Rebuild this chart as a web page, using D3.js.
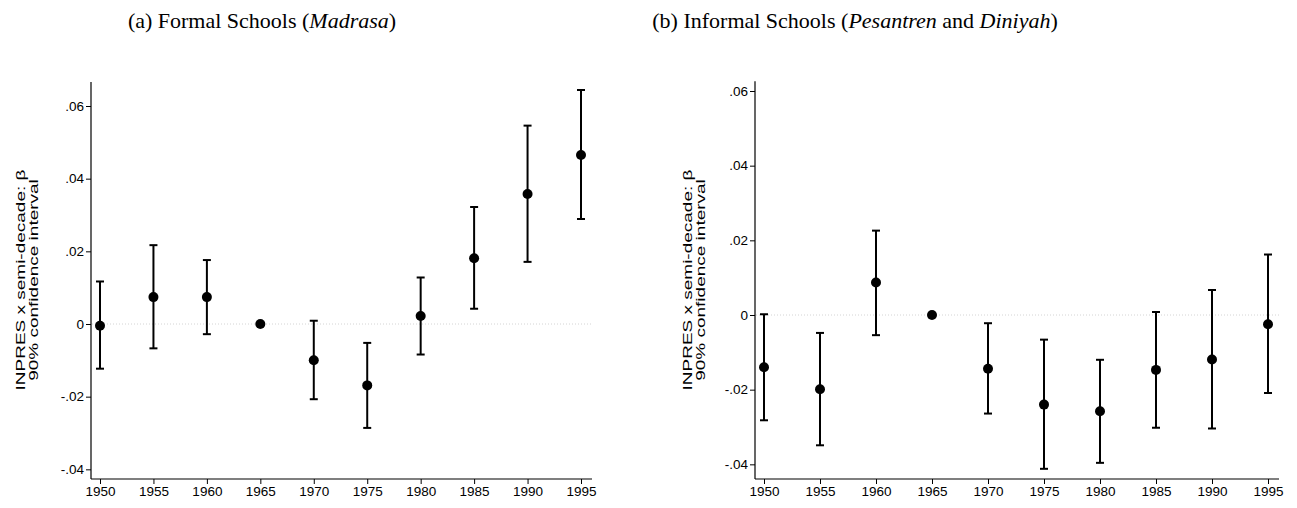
<!DOCTYPE html>
<html>
<head>
<meta charset="utf-8">
<script src="https://cdn.jsdelivr.net/npm/d3@7"></script>
<style>
  html, body { margin: 0; padding: 0; background: #fff; }
  svg { display: block; }
  .tick text { font-family: "Liberation Sans", Arial, sans-serif; font-size: 13.5px; fill: #000; }
  .title { font-family: "Liberation Serif", "Times New Roman", serif; font-size: 22px; fill: #000; }
  .ytitle { font-family: "Liberation Sans", Arial, sans-serif; font-size: 19px; fill: #000; }
</style>
</head>
<body>
<svg id="chart" width="1297" height="508"></svg>
<script>
// Birth cohorts (semi-decades)
const years = [1950, 1955, 1960, 1965, 1970, 1975, 1980, 1985, 1990, 1995];

// Panel (a): formal schools — point estimates and 90% CI bounds
const formalEst   = [-0.0005, 0.0074, 0.0074, 0, -0.0100, -0.0169, 0.0022, 0.0181, 0.0358, 0.0465];
const formalLow   = [-0.0123, -0.0067, -0.0028, null, -0.0207, -0.0286, -0.0084, 0.0042, 0.0171, 0.0289];
const formalHigh  = [0.0117, 0.0217, 0.0176, null, 0.0009, -0.0052, 0.0128, 0.0322, 0.0546, 0.0644];

// Panel (b): informal schools — point estimates and 90% CI bounds
const informalEst  = [-0.0140, -0.0199, 0.0087, 0, -0.0144, -0.0240, -0.0258, -0.0147, -0.0119, -0.0025];
const informalLow  = [-0.0282, -0.0349, -0.0054, null, -0.0264, -0.0412, -0.0396, -0.0302, -0.0304, -0.0209];
const informalHigh = [0.0002, -0.0048, 0.0226, null, -0.0022, -0.0066, -0.0120, 0.0008, 0.0067, 0.0162];

const yTicks = [-0.04, -0.02, 0, 0.02, 0.04, 0.06];
const yTickLabels = ["-.04", "-.02", "0", ".02", ".04", ".06"];

const yTitleLines = ["INPRES x semi-decade: \u03b2", "90% confidence interval"];

const svg = d3.select("#chart");

function panel(cfg) {
  const g = svg.append("g");
  const x = d3.scaleLinear().domain([1950, 1995]).range([cfg.x0, cfg.x1]);
  const y = d3.scaleLinear().domain([0, 0.06]).range([cfg.yZero, cfg.ySix]);
  const axisLeftX = cfg.axisX;
  const axisRightX = cfg.axisEnd;
  const yTop = y(cfg.yMax);
  const yBottom = cfg.axisY;

  // panel title
  const t = g.append("text").attr("class", "title")
    .attr("x", cfg.titleX).attr("y", 28).attr("text-anchor", "middle");
  cfg.title.forEach(p => {
    t.append("tspan").attr("font-style", p.italic ? "italic" : "normal").text(p.text);
  });

  // zero reference line
  g.append("line")
    .attr("x1", axisLeftX + 1).attr("x2", axisRightX)
    .attr("y1", y(0)).attr("y2", y(0))
    .attr("stroke", "#d4d4d4").attr("stroke-width", 1)
    .attr("stroke-dasharray", "1,2");

  // y axis
  const yAxis = d3.axisLeft(y).tickValues(yTicks)
    .tickFormat((d, i) => yTickLabels[i]).tickSize(5).tickPadding(2);
  const ya = g.append("g").attr("transform", `translate(${axisLeftX},0)`).call(yAxis);
  ya.select(".domain").remove();
  ya.append("line").attr("x1", 0).attr("x2", 0).attr("y1", yTop).attr("y2", yBottom)
    .attr("stroke", "#000").attr("stroke-width", 1.2);
  ya.selectAll(".tick line").attr("stroke", "#000");

  // x axis
  const xAxis = d3.axisBottom(x).tickValues(years).tickFormat(d3.format("d"))
    .tickSize(5).tickPadding(2);
  const xa = g.append("g").attr("transform", `translate(0,${yBottom})`).call(xAxis);
  xa.select(".domain").remove();
  xa.append("line").attr("x1", axisLeftX).attr("x2", axisRightX).attr("y1", 0).attr("y2", 0)
    .attr("stroke", "#000").attr("stroke-width", 1.2);
  xa.selectAll(".tick line").attr("stroke", "#000");

  // y axis title (two lines, rotated, horizontally condensed)
  const yt = g.append("text").attr("class", "ytitle")
    .attr("transform", `translate(${cfg.yTitleX},${cfg.yTitleY}) scale(0.72,1) rotate(-90)`)
    .attr("text-anchor", "middle");
  yTitleLines.forEach((line, i) => {
    yt.append("tspan").attr("x", 0).attr("dy", i === 0 ? 0 : 18).text(line);
  });

  // confidence intervals
  const rows = years.map((yr, i) => ({ yr, est: cfg.est[i], lo: cfg.lo[i], hi: cfg.hi[i] }));
  const ci = rows.filter(d => d.lo !== null);
  const cap = 4;
  g.selectAll(".ci").data(ci).enter().append("line")
    .attr("x1", d => x(d.yr)).attr("x2", d => x(d.yr))
    .attr("y1", d => y(d.lo)).attr("y2", d => y(d.hi))
    .attr("stroke", "#000").attr("stroke-width", 2);
  g.selectAll(".capHi").data(ci).enter().append("line")
    .attr("x1", d => x(d.yr) - cap).attr("x2", d => x(d.yr) + cap)
    .attr("y1", d => y(d.hi)).attr("y2", d => y(d.hi))
    .attr("stroke", "#000").attr("stroke-width", 2);
  g.selectAll(".capLo").data(ci).enter().append("line")
    .attr("x1", d => x(d.yr) - cap).attr("x2", d => x(d.yr) + cap)
    .attr("y1", d => y(d.lo)).attr("y2", d => y(d.lo))
    .attr("stroke", "#000").attr("stroke-width", 2);

  // point estimates
  g.selectAll(".pt").data(rows).enter().append("circle")
    .attr("cx", d => x(d.yr)).attr("cy", d => y(d.est)).attr("r", 5)
    .attr("fill", "#000");
}

panel({
  title: [{ text: "(a) Formal Schools (" }, { text: "Madrasa", italic: true }, { text: ")" }],
  titleX: 262,
  est: formalEst, lo: formalLow, hi: formalHigh,
  x0: 100, x1: 581, axisX: 91, axisEnd: 592,
  yZero: 324, ySix: 106, yMax: 0.0666, axisY: 479,
  yTitleX: 25, yTitleY: 280
});

panel({
  title: [{ text: "(b) Informal Schools (" }, { text: "Pesantren", italic: true }, { text: " and " },
          { text: "Diniyah", italic: true }, { text: ")" }],
  titleX: 855,
  est: informalEst, lo: informalLow, hi: informalHigh,
  x0: 764, x1: 1268, axisX: 755, axisEnd: 1279,
  yZero: 315, ySix: 91, yMax: 0.0626, axisY: 479,
  yTitleX: 692, yTitleY: 280
});
</script>
</body>
</html>
